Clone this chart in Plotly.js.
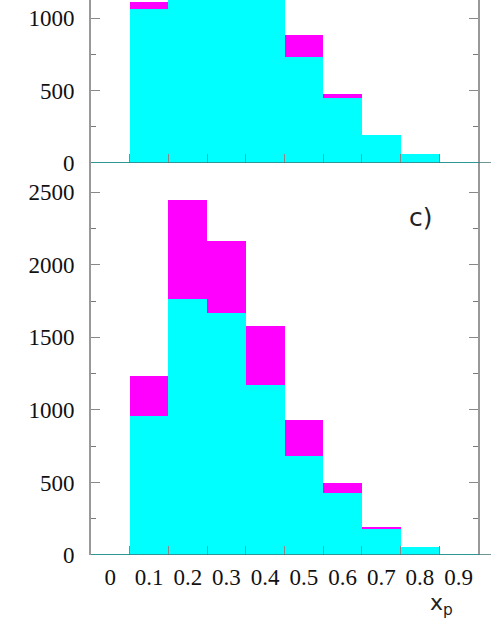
<!DOCTYPE html>
<html>
<head>
<meta charset="utf-8">
<script src="https://cdn.plot.ly/plotly-3.0.1.min.js"></script>
<style>
  html, body { margin: 0; padding: 0; background: #fff; }
  #chart { width: 491px; height: 635px; }
</style>
</head>
<body>
<div id="chart"></div>
<script>
// bin centres of x_p (width 0.1) and the labels printed under them
var binCentres = [0.05, 0.15, 0.25, 0.35, 0.45, 0.55, 0.65, 0.75, 0.85, 0.95];
var binEdges = [0.1, 0.2, 0.3, 0.4, 0.5, 0.6, 0.7, 0.8, 0.9];
var xLabels = ['0', '0.1', '0.2', '0.3', '0.4', '0.5', '0.6', '0.7', '0.8', '0.9'];

// upper panel (cut off at the top of the picture)
var upperCyan  = [5, 1062, 1900, 1810, 1270, 735, 447, 194, 60, 5];
var upperTotal = [5, 1113, 2400, 2200, 1560, 887, 479, 194, 60, 5];

// panel c)
var lowerCyan  = [4, 961, 1766, 1669, 1172, 681, 425, 179, 57, 4];
var lowerTotal = [4, 1237, 2448, 2166, 1577, 931, 494, 195, 57, 4];

var yTickVals = [0, 500, 1000, 1500, 2000, 2500];

var cyan = '#00ffff';
var magenta = '#ff00ff';
var serif = 'Liberation Serif';

function bars(y, colour, xa, ya) {
    return {
        type: 'bar',
        x: binCentres,
        y: y,
        width: 0.1,
        xaxis: xa,
        yaxis: ya,
        marker: { color: colour, line: { width: 0 } },
        hoverinfo: 'skip',
        showlegend: false
    };
}

var data = [
    bars(lowerTotal, magenta, 'x', 'y'),
    bars(lowerCyan, cyan, 'x', 'y'),
    bars(upperTotal, magenta, 'x2', 'y2'),
    bars(upperCyan, cyan, 'x2', 'y2')
];

var split = 392 / 555;   // where panel c) meets the upper panel

function leftY(range, domain, anchor) {
    return {
        domain: domain,
        anchor: anchor,
        range: range,
        tickmode: 'array',
        tickvals: yTickVals,
        ticks: 'inside',
        ticklen: 9,
        tickwidth: 1,
        tickcolor: '#888',
        mirror: 'ticks',
        showline: true,
        linecolor: '#999',
        linewidth: 2,
        showgrid: false,
        zeroline: false,
        ticklabelstandoff: 10,
        tickfont: { family: serif, size: 23, color: '#111' },
        minor: { dtick: 250, tick0: 0, ticks: 'inside', ticklen: 5, tickwidth: 1, tickcolor: '#777', showgrid: false }
    };
}

function rightY(range, over, anchor) {
    return {
        overlaying: over,
        anchor: anchor,
        side: 'right',
        range: range,
        tickmode: 'array',
        tickvals: yTickVals,
        ticks: 'outside',
        ticklen: 9,
        tickwidth: 1,
        tickcolor: '#888',
        showticklabels: false,
        showline: true,
        linecolor: '#666',
        linewidth: 1.5,
        showgrid: false,
        zeroline: false,
        minor: { dtick: 250, tick0: 0, ticks: 'outside', ticklen: 5, tickwidth: 1, tickcolor: '#777', showgrid: false }
    };
}

var layout = {
    width: 491,
    height: 635,
    margin: { l: 91, r: 13, t: 0, b: 80 },
    font: { family: serif, size: 23, color: '#111' },
    paper_bgcolor: '#fff',
    plot_bgcolor: 'rgba(0,0,0,0)',
    barmode: 'overlay',
    bargap: 0,
    xaxis: {
        anchor: 'y',
        range: [0, 1],
        tickmode: 'array',
        tickvals: binCentres,
        ticktext: xLabels,
        ticks: '',
        mirror: 'ticks',
        showline: false,
        showgrid: false,
        zeroline: false,
        ticklabelstandoff: 6,
        tickfont: { family: serif, size: 23, color: '#111' },
        minor: { tickmode: 'array', tickvals: binEdges, ticks: 'inside', ticklen: 9, tickwidth: 1, tickcolor: '#888', showgrid: false }
    },
    xaxis2: {
        anchor: 'y2',
        matches: 'x',
        range: [0, 1],
        tickmode: 'array',
        tickvals: binCentres,
        ticks: '',
        showticklabels: false,
        showline: false,
        showgrid: false,
        zeroline: false,
        minor: { tickmode: 'array', tickvals: binEdges, ticks: 'inside', ticklen: 9, tickwidth: 1, tickcolor: '#888', showgrid: false }
    },
    yaxis: leftY([0, 2702], [0, split], 'x'),
    yaxis2: leftY([0, 1127], [split, 1], 'x2'),
    yaxis3: rightY([0, 2702], 'y', 'x'),
    yaxis4: rightY([0, 1127], 'y2', 'x2'),
    shapes: [
        { type: 'line', xref: 'paper', yref: 'y', x0: 0, x1: 400 / 387, y0: 0, y1: 0,
          line: { color: '#3d7474', width: 1.5 }, layer: 'above' },
        { type: 'line', xref: 'paper', yref: 'y2', x0: 0, x1: 400 / 387, y0: 0, y1: 0,
          line: { color: '#3d7474', width: 1.5 }, layer: 'above' }
    ],
    annotations: [
        { text: 'c)', xref: 'x', yref: 'y', x: 0.853, y: 2324, showarrow: false,
          xanchor: 'center', yanchor: 'middle',
          font: { family: 'DejaVu Sans', size: 25, color: '#222' } },
        { text: 'x<sub>p</sub>', xref: 'paper', yref: 'paper', x: 0.905, y: -0.09, showarrow: false,
          xanchor: 'center', yanchor: 'middle',
          font: { family: 'DejaVu Sans', size: 22, color: '#222' } }
    ]
};

Plotly.newPlot('chart', data, layout, { staticPlot: true, displayModeBar: false });
</script>
</body>
</html>
